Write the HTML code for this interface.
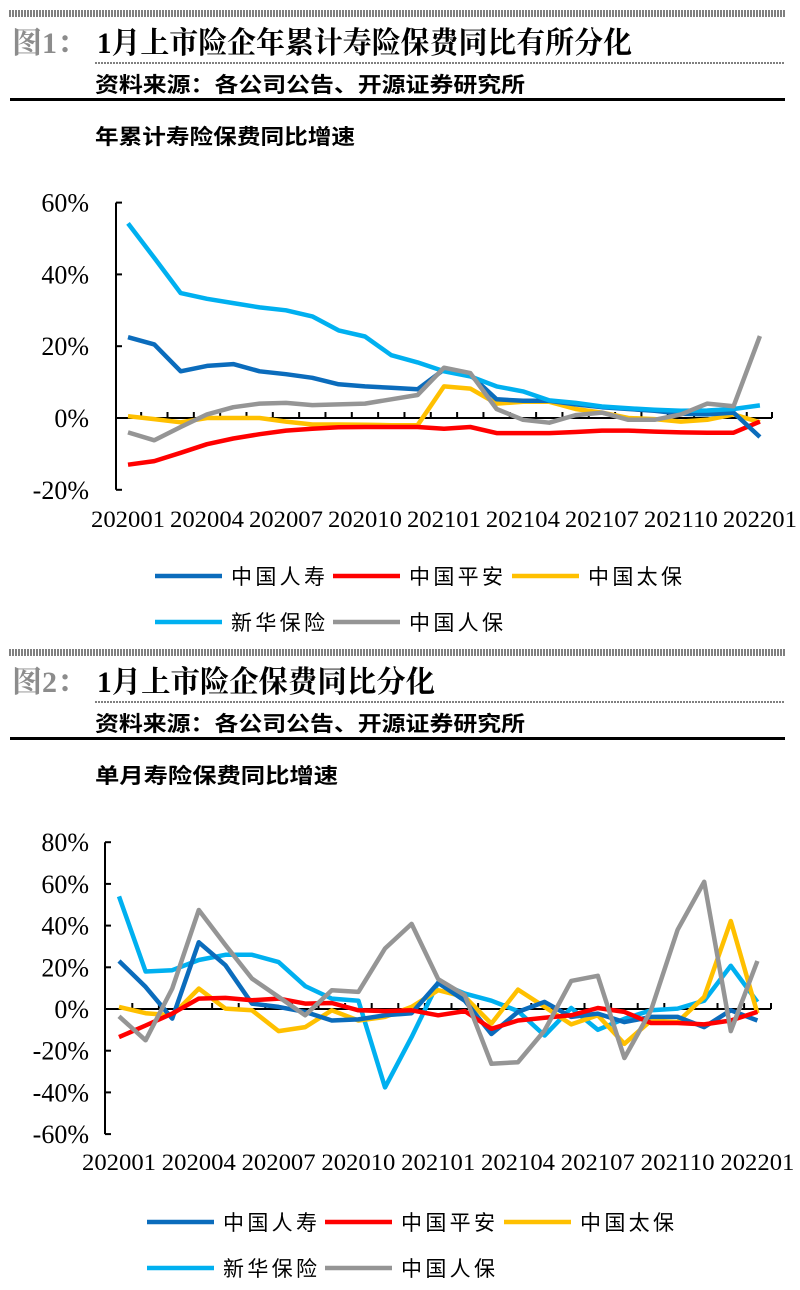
<!DOCTYPE html>
<html><head><meta charset="utf-8">
<style>
body{margin:0;background:#fff;width:800px;height:1290px;overflow:hidden}
svg{display:block}
.h{font-family:"Liberation Serif","Noto Serif CJK SC",serif;font-weight:bold}
.s{font-family:"Liberation Sans","Noto Sans CJK SC",sans-serif;font-weight:bold}
.n{font-family:"Liberation Serif",serif}
.lg{font-family:"Liberation Sans","Noto Sans CJK SC",sans-serif;font-size:21px}
</style></head><body>
<svg id="c" width="800" height="1290" xmlns="http://www.w3.org/2000/svg"></svg>
<script>
const S=document.getElementById('c');let h='';
const C={life:'#0b6cbc',pa:'#ff0000',cp:'#ffc000',xh:'#00b0f0',picc:'#959595'};
function header(y0,num,title,titleW,sub,subW){
 let p='';for(let x=10;x<785;x+=3)p+=`M${x} ${y0}v7`;
 h+=`<path d="${p}" stroke="#000" stroke-width="1"/>`;
 h+=`<text x="12" y="${y0+43}" class="h" font-size="30" fill="#8c8c8c">图${num}：</text>`;
 h+=`<text x="97" y="${y0+43}" class="h" font-size="30" fill="#000" textLength="${titleW}" lengthAdjust="spacingAndGlyphs">${title}</text>`;
 h+=`<line x1="95" y1="${y0+53}" x2="785" y2="${y0+53}" stroke="#000" stroke-width="1" stroke-dasharray="2,1"/>`;
 h+=`<text x="95" y="${y0+82}" class="s" font-size="21" textLength="430" lengthAdjust="spacingAndGlyphs">资料来源：各公司公告、开源证券研究所</text>`;
 h+=`<rect x="10" y="${y0+88}" width="775" height="3" fill="#000"/>`;
 h+=`<text x="95" y="${y0+134}" class="s" font-size="21" textLength="${subW}" lengthAdjust="spacingAndGlyphs">${sub}</text>`;
}
header(10,'1','1月上市险企年累计寿险保费同比有所分化',535,'年累计寿险保费同比增速',260);
header(649,'2','1月上市险企保费同比分化',338,'单月寿险保费同比增速',243);
function chart(ax,x0,step,axEnd,yz,ppp,max,min,stepv,series,ly,xlY,lo){
 const Y=v=>yz-v*ppp;
 h+=`<line x1="${ax}" y1="${Y(max)}" x2="${ax}" y2="${Y(min)}" stroke="#000" stroke-width="2"/>`;
 for(let v=max;v>=min;v-=stepv){h+=`<line x1="${ax}" y1="${Y(v)}" x2="${ax+6}" y2="${Y(v)}" stroke="#000" stroke-width="2"/>`;
  h+=`<text x="89" y="${Y(v)+9}" text-anchor="end" class="n" font-size="26">${v}%</text>`;}
 h+=`<line x1="${ax}" y1="${yz}" x2="${axEnd}" y2="${yz}" stroke="#000" stroke-width="2"/>`;
 for(let i=0;i<24;i++){const x=x0+step/2+i*step;h+=`<line x1="${x}" y1="${yz}" x2="${x}" y2="${yz-6}" stroke="#000" stroke-width="2"/>`;}
 h+=`<line x1="${axEnd}" y1="${yz}" x2="${axEnd}" y2="${yz-6}" stroke="#000" stroke-width="2"/>`;
 const labs=['202001','202004','202007','202010','202101','202104','202107','202110','202201'];
 labs.forEach((l,i)=>{h+=`<text x="${x0+i*3*step}" y="${xlY}" text-anchor="middle" class="n" font-size="23" textLength="74" lengthAdjust="spacingAndGlyphs">${l}</text>`;});
 series.forEach(([k,d])=>{h+=`<polyline fill="none" stroke="${C[k]}" stroke-width="4.5" stroke-linejoin="round" points="${d.map((v,i)=>(x0+i*step).toFixed(1)+','+Y(v).toFixed(1)).join(' ')}"/>`;});
 const L=[[[155,'life','中国人寿'],[333,'pa','中国平安'],[512,'cp','中国太保']],[[155,'xh','新华保险'],[333,'picc','中国人保']]];
 L.forEach((row,r)=>row.forEach(([x,k,t])=>{const y=ly+r*46;x-=lo;h+=`<line x1="${x}" y1="${y}" x2="${x+67}" y2="${y}" stroke="${C[k]}" stroke-width="4.5"/><text x="${x+76}" y="${y+8}" class="lg" textLength="94" lengthAdjust="spacing">${t}</text>`;}));
}
chart(116,128,26.33,772,418,3.59,60,-20,20,[
['cp',[0.5,-0.3,-1.2,0,0,0,-1,-1.8,-1.8,-1.9,-2,-2,8.8,8.2,4,4.5,4.5,2.5,1.5,0,-0.3,-1,-0.5,1,-1.2]],
['pa',[-13,-12,-9.7,-7.3,-5.7,-4.5,-3.5,-3,-2.6,-2.5,-2.5,-2.5,-3,-2.5,-4.2,-4.2,-4.2,-3.9,-3.5,-3.5,-3.8,-4,-4.1,-4.1,-1]],
['life',[22.5,20.5,13,14.5,15,13,12.2,11.2,9.4,8.8,8.4,8,13.5,12,5.2,4.8,4.8,3.8,3,2.5,2,1.2,1,1.5,-5.3]],
['xh',[54.2,44.6,34.8,33.2,32,30.8,30,28.3,24.4,22.7,17.5,15.5,13,11.6,8.8,7.4,4.9,4.2,3.2,2.7,2.3,2,2.1,2.5,3.5]],
['picc',[-4,-6.2,-2.5,1,3,4,4.2,3.6,3.8,4,5.2,6.4,14,12.5,2.5,-0.5,-1.3,0.8,1.5,-0.5,-0.5,1,4,3.3,22.8]]
],576,527,0);
chart(105,119,26.6,771,1009,2.085,80,-60,20,[
['xh',[54,18,18.6,23.5,26,26,22.5,11,5,4,-37.6,-13.5,12.7,7.4,4,-1,-12.7,0.5,-10,-4.7,-0.6,0.2,4,20.7,3.4]],
['cp',[1,-2,-3,9.8,0.2,-0.6,-10.6,-8.7,-0.6,-5.5,-3.8,1,9,5.8,-7,9.3,1,-7.4,-3,-16.7,-5.5,-6.3,5.8,42.2,-2]],
['life',[23,10.6,-4.6,32,21,2.6,1,-1.4,-5.5,-5,-3,-2,12.5,4,-12,-1.4,3.4,-3.8,-2.2,-6.3,-3.8,-3.8,-8.7,-0.6,-5.5]],
['pa',[-13.5,-7.9,-2.2,5,5.3,4.2,5,2.6,2.9,-0.6,-1,-0.6,-3,-1,-9.5,-5.5,-4.2,-3,0.5,-1.4,-6.7,-6.7,-7.4,-5.5,-1.4]],
['picc',[-3.5,-15,9.8,47.5,30.7,14.6,5.8,-3,9,8.2,29,40.8,14.3,6.6,-26.3,-25.5,-10.3,13.5,15.9,-23.5,-0.6,38,61,-10.6,23]]
],1222,1170,8);
S.innerHTML=h;
</script>
</body></html>
